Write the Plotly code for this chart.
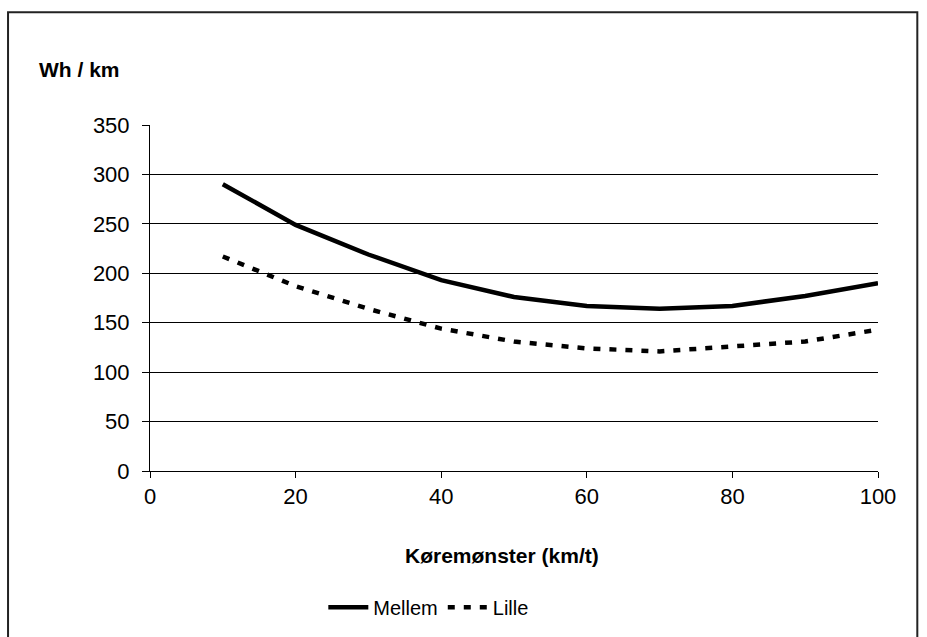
import plotly.graph_objects as go

# Energy use per km at different driving patterns
speed = [10, 20, 30, 40, 50, 60, 70, 80, 90, 100]
mellem = [290, 249, 219, 193, 176, 167, 164, 167, 177, 190]
lille = [217, 187, 164, 144, 131, 124, 121, 126, 131, 143]

x_ticks = [0, 20, 40, 60, 80, 100]
y_ticks = [0, 50, 100, 150, 200, 250, 300, 350]

FONT = "Liberation Sans, Arial, sans-serif"

fig = go.Figure()
fig.add_trace(go.Scatter(
    x=speed, y=mellem, name="Mellem", mode="lines",
    line=dict(color="black", width=4.5),
))
fig.add_trace(go.Scatter(
    x=speed, y=lille, name="Lille", mode="lines",
    line=dict(color="black", width=4.5, dash="7px,9px"),
))

fig.update_layout(
    width=927, height=637,
    margin=dict(l=150, r=49, t=125, b=165),
    paper_bgcolor="white", plot_bgcolor="white",
    font=dict(family=FONT, size=22, color="black"),
    showlegend=True,
    legend=dict(
        orientation="h", x=0.383, y=-0.39, xanchor="center", yanchor="middle",
        font=dict(size=20), itemwidth=40, tracegroupgap=0,
    ),
    xaxis=dict(
        range=[0, 100], tickvals=x_ticks, showgrid=False,
        showline=True, linecolor="black", linewidth=1,
        ticks="outside", ticklen=6, tickcolor="black",
        tickfont=dict(size=22),
        zeroline=False, fixedrange=True,
    ),
    yaxis=dict(
        range=[0, 350], tickvals=y_ticks, showgrid=True,
        gridcolor="black", gridwidth=1,
        showline=True, linecolor="black", linewidth=1,
        ticks="outside", ticklen=7, tickcolor="black",
        tickfont=dict(size=22), ticklabelstandoff=8,
        zeroline=False, fixedrange=True,
    ),
    annotations=[
        dict(text="<b>Wh / km</b>", xref="paper", yref="paper",
             x=-0.155, y=1.16, xanchor="left", yanchor="middle",
             showarrow=False, font=dict(size=21)),
        dict(text="<b>Køremønster (km/t)</b>", xref="paper", yref="paper",
             x=0.4835, y=-0.245, xanchor="center", yanchor="middle",
             showarrow=False, font=dict(size=21)),
    ],
    shapes=[
        dict(type="rect", xref="paper", yref="paper",
             x0=-0.195, x1=1.054, y0=-0.52, y1=1.3256,
             line=dict(color="#222", width=2), layer="below"),
    ],
)

fig.write_html("out.html")
